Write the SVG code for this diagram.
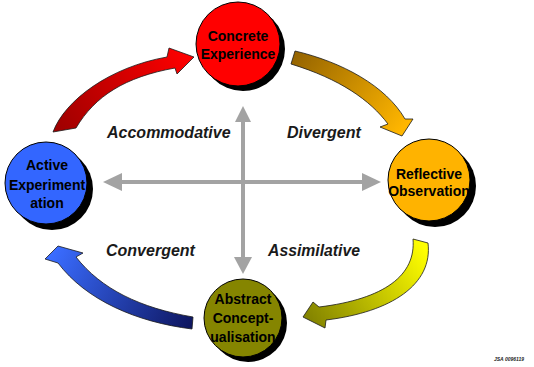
<svg xmlns="http://www.w3.org/2000/svg" width="534" height="367" viewBox="0 0 534 367">
  <style>
    .node-shadow { fill: #000; }
    .node-circle { stroke: #000; stroke-width: 1; }
    .node-text { font-family: "Liberation Sans", Arial, sans-serif; font-weight: bold; font-size: 14px; fill: #000; text-anchor: middle; }
    .label { font-family: "Liberation Sans", Arial, sans-serif; font-weight: bold; font-style: italic; font-size: 16px; fill: #1a1a1a; }
    .axis { stroke: #a3a3a3; stroke-width: 4; fill: none; }
    .axis-head { fill: #a3a3a3; }
    .cycle { stroke: #1a1a1a; stroke-width: 0.8; stroke-linejoin: miter; }
    .tag { font-family: "Liberation Sans", Arial, sans-serif; font-weight: bold; font-style: italic; font-size: 5px; fill: #222; }
  </style>
  <defs>
    <linearGradient id="gRed" x1="60" y1="130" x2="190" y2="55" gradientUnits="userSpaceOnUse">
      <stop offset="0" stop-color="#a00000"/>
      <stop offset="1" stop-color="#ff0000"/>
    </linearGradient>
    <linearGradient id="gGold" x1="295" y1="55" x2="400" y2="132" gradientUnits="userSpaceOnUse">
      <stop offset="0" stop-color="#956400"/>
      <stop offset="1" stop-color="#ffb600"/>
    </linearGradient>
    <linearGradient id="gYellow" x1="420" y1="242" x2="310" y2="318" gradientUnits="userSpaceOnUse">
      <stop offset="0" stop-color="#ffff00"/>
      <stop offset="1" stop-color="#858500"/>
    </linearGradient>
    <linearGradient id="gBlue" x1="192" y1="324" x2="55" y2="250" gradientUnits="userSpaceOnUse">
      <stop offset="0" stop-color="#0e1660"/>
      <stop offset="1" stop-color="#3a6cff"/>
    </linearGradient>
  </defs>
  <rect width="534" height="367" fill="#fff"/>

  <g id="connectors">
    <!-- axes -->
    <line class="axis" x1="118" y1="182" x2="366" y2="182"/>
    <polygon class="axis-head" points="103,182 122,173 122,191"/>
    <polygon class="axis-head" points="381,182 362,173 362,191"/>
    <line class="axis" x1="243" y1="117" x2="243" y2="262"/>
    <polygon class="axis-head" points="243,106 235,122 251,122"/>
    <polygon class="axis-head" points="243,274 234,257 252,257"/>
    <!-- cycle arrows -->
    <path class="cycle" fill="url(#gRed)" d="M53,132 C 65,100 110,67 167,57 L169,48 L194,57 L177,74 L175,68 C 125,77 95,96 76,128 Z"/>
    <path class="cycle" fill="url(#gGold)" d="M295,51 C 342,62 386,86 405,119 L413,119 L402,136 L380,127 L388,124 C 370,100 340,79 291,64 Z"/>
    <path class="cycle" fill="url(#gYellow)" d="M413,239 C 416,275 385,299 319,307 L313,302 L303,317 L325,328 L326,320 C 392,312 433,284 428,243 Z"/>
    <path class="cycle" fill="url(#gBlue)" d="M193,317 C 140,308 101,289 76,257 L83,253 L58,246 L45,259 L58,263 C 86,300 136,322 192,329 Z"/>
  </g>

  <g id="node-concrete">
    <circle class="node-shadow" cx="243" cy="49" r="42"/>
    <circle class="node-circle" cx="238" cy="44" r="42" fill="#ff0000"/>
    <text class="node-text" x="238" y="41">Concrete</text>
    <text class="node-text" x="238" y="59">Experience</text>
  </g>

  <g id="node-reflective">
    <circle class="node-shadow" cx="435" cy="186" r="41"/>
    <circle class="node-circle" cx="429" cy="180" r="41" fill="#ffb300"/>
    <text class="node-text" x="429" y="179">Reflective</text>
    <text class="node-text" x="429" y="196">Observation</text>
  </g>

  <g id="node-active">
    <circle class="node-shadow" cx="52" cy="189" r="41"/>
    <circle class="node-circle" cx="46" cy="183" r="41" fill="#3366ff"/>
    <text class="node-text" x="47" y="170">Active</text>
    <text class="node-text" x="47" y="190">Experiment</text>
    <text class="node-text" x="47" y="208">ation</text>
  </g>

  <g id="node-abstract">
    <circle class="node-shadow" cx="248" cy="323" r="39"/>
    <circle class="node-circle" cx="243" cy="318" r="39" fill="#858500"/>
    <text class="node-text" x="243" y="304">Abstract</text>
    <text class="node-text" x="243" y="323">Concept-</text>
    <text class="node-text" x="243" y="342">ualisation</text>
  </g>

  <g id="labels">
    <text class="label" x="107" y="138">Accommodative</text>
    <text class="label" x="287" y="138">Divergent</text>
    <text class="label" x="106" y="256">Convergent</text>
    <text class="label" x="268" y="256" textLength="92" lengthAdjust="spacingAndGlyphs">Assimilative</text>
    <text class="tag" x="494" y="361">JSA 0096119</text>
  </g>
</svg>
